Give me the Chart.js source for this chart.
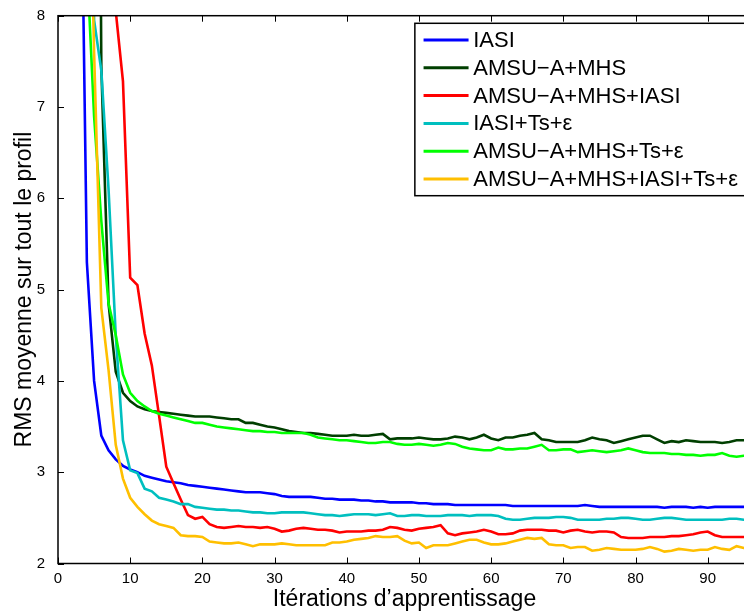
<!DOCTYPE html>
<html>
<head>
<meta charset="utf-8">
<script src="https://cdn.jsdelivr.net/npm/chart.js@4.4.1/dist/chart.umd.min.js"></script>
<style>
  html, body { margin: 0; padding: 0; background: #fff; overflow: hidden; }
  #wrap { width: 760px; height: 613px; }
</style>
</head>
<body>
<div id="wrap"><canvas id="rms" width="760" height="613"></canvas></div>
<script>
// ── Data ────────────────────────────────────────────────────
const iterations = [
  1, 2, 3, 4, 5, 6, 7, 8, 9, 10, 11, 12, 13, 14, 15, 16, 17, 18, 19, 20,
  21, 22, 23, 24, 25, 26, 27, 28, 29, 30, 31, 32, 33, 34, 35, 36, 37, 38, 39, 40,
  41, 42, 43, 44, 45, 46, 47, 48, 49, 50, 51, 52, 53, 54, 55, 56, 57, 58, 59, 60,
  61, 62, 63, 64, 65, 66, 67, 68, 69, 70, 71, 72, 73, 74, 75, 76, 77, 78, 79, 80,
  81, 82, 83, 84, 85, 86, 87, 88, 89, 90, 91, 92, 93, 94, 95, 96
];

const seriesLabels = [
  'IASI',
  'AMSU\u2212A+MHS',
  'AMSU\u2212A+MHS+IASI',
  'IASI+Ts+\u03b5',
  'AMSU\u2212A+MHS+Ts+\u03b5',
  'AMSU\u2212A+MHS+IASI+Ts+\u03b5'
];
const seriesColors = ['#0000ff', '#003f00', '#ff0000', '#00bfbf', '#00ff00', '#ffbf00'];

const rmsIasi = [
  18, 14, 11, 5.3, 4.0, 3.4, 3.24, 3.14, 3.07, 3.03, 3.0, 2.96, 2.94, 2.92, 2.90, 2.89, 2.88, 2.86, 2.85, 2.84,
  2.83, 2.82, 2.81, 2.80, 2.79, 2.78, 2.78, 2.78, 2.77, 2.76, 2.74, 2.73, 2.73, 2.73, 2.73, 2.72, 2.71, 2.71, 2.70, 2.70,
  2.70, 2.69, 2.69, 2.68, 2.68, 2.67, 2.67, 2.67, 2.67, 2.66, 2.66, 2.65, 2.65, 2.65, 2.64, 2.64, 2.64, 2.64, 2.64, 2.64,
  2.64, 2.64, 2.63, 2.63, 2.63, 2.63, 2.63, 2.63, 2.63, 2.63, 2.63, 2.63, 2.64, 2.63, 2.62, 2.62, 2.62, 2.62, 2.62, 2.62,
  2.62, 2.62, 2.62, 2.61, 2.62, 2.62, 2.62, 2.61, 2.62, 2.61, 2.62, 2.62, 2.62, 2.62, 2.62, 2.62
];

const rmsAmsuMhs = [
  26, 23, 21, 20, 20, 7.45, 4.85, 4.1, 3.87, 3.78, 3.72, 3.69, 3.67, 3.66, 3.65, 3.64, 3.63, 3.62, 3.61, 3.61,
  3.61, 3.60, 3.59, 3.58, 3.58, 3.54, 3.54, 3.52, 3.50, 3.49, 3.47, 3.45, 3.44, 3.43, 3.43, 3.42, 3.41, 3.40, 3.40, 3.40,
  3.41, 3.40, 3.40, 3.41, 3.42, 3.36, 3.37, 3.37, 3.37, 3.38, 3.37, 3.36, 3.36, 3.37, 3.39, 3.38, 3.36, 3.38, 3.41, 3.37,
  3.35, 3.38, 3.38, 3.40, 3.41, 3.43, 3.36, 3.35, 3.33, 3.33, 3.33, 3.33, 3.35, 3.38, 3.36, 3.35, 3.32, 3.34, 3.36, 3.38,
  3.40, 3.40, 3.36, 3.32, 3.34, 3.33, 3.35, 3.34, 3.33, 3.33, 3.33, 3.32, 3.33, 3.35, 3.35, 3.34
];

const rmsAmsuMhsIasi = [
  26, 22, 19, 17, 15, 13, 11, 8.05, 7.28, 5.13, 5.05, 4.52, 4.17, 3.62, 3.06, 2.88, 2.70, 2.53, 2.49, 2.51,
  2.43, 2.40, 2.39, 2.40, 2.41, 2.40, 2.40, 2.39, 2.40, 2.38, 2.35, 2.36, 2.38, 2.39, 2.38, 2.37, 2.37, 2.36, 2.34, 2.35,
  2.35, 2.35, 2.36, 2.36, 2.37, 2.40, 2.39, 2.37, 2.36, 2.38, 2.39, 2.40, 2.42, 2.33, 2.31, 2.33, 2.34, 2.35, 2.37, 2.35,
  2.32, 2.32, 2.33, 2.36, 2.37, 2.37, 2.37, 2.36, 2.36, 2.34, 2.36, 2.37, 2.35, 2.34, 2.35, 2.35, 2.34, 2.29, 2.28, 2.28,
  2.28, 2.29, 2.29, 2.29, 2.30, 2.30, 2.31, 2.32, 2.34, 2.35, 2.31, 2.29, 2.29, 2.29, 2.29, 2.29
];

const rmsIasiTsEps = [
  24, 20, 17, 14, 7.95, 7.4, 6.1, 4.5, 3.35, 3.02, 2.99, 2.82, 2.79, 2.72, 2.70, 2.68, 2.65, 2.65, 2.62, 2.61,
  2.60, 2.59, 2.59, 2.58, 2.58, 2.57, 2.56, 2.56, 2.55, 2.55, 2.56, 2.56, 2.56, 2.56, 2.55, 2.54, 2.53, 2.53, 2.52, 2.53,
  2.54, 2.54, 2.54, 2.53, 2.54, 2.55, 2.52, 2.52, 2.53, 2.53, 2.52, 2.52, 2.52, 2.53, 2.53, 2.53, 2.52, 2.53, 2.53, 2.53,
  2.52, 2.49, 2.48, 2.48, 2.49, 2.50, 2.50, 2.50, 2.51, 2.51, 2.50, 2.48, 2.48, 2.48, 2.48, 2.49, 2.49, 2.50, 2.50, 2.49,
  2.48, 2.48, 2.49, 2.50, 2.50, 2.49, 2.48, 2.48, 2.48, 2.48, 2.48, 2.48, 2.49, 2.49, 2.48, 2.48
];

const rmsAmsuMhsTsEps = [
  22, 18, 14, 8.6, 6.9, 5.75, 4.85, 4.5, 4.07, 3.87, 3.78, 3.72, 3.67, 3.64, 3.62, 3.60, 3.58, 3.56, 3.54, 3.54,
  3.52, 3.50, 3.49, 3.48, 3.47, 3.46, 3.45, 3.45, 3.44, 3.44, 3.43, 3.43, 3.43, 3.43, 3.41, 3.38, 3.37, 3.36, 3.35, 3.35,
  3.34, 3.33, 3.32, 3.32, 3.33, 3.33, 3.31, 3.30, 3.30, 3.31, 3.30, 3.29, 3.30, 3.32, 3.31, 3.28, 3.26, 3.25, 3.24, 3.24,
  3.27, 3.25, 3.25, 3.26, 3.26, 3.28, 3.30, 3.24, 3.24, 3.25, 3.25, 3.22, 3.23, 3.24, 3.23, 3.22, 3.23, 3.24, 3.26, 3.24,
  3.22, 3.21, 3.21, 3.21, 3.20, 3.20, 3.19, 3.19, 3.18, 3.19, 3.19, 3.21, 3.18, 3.17, 3.18, 3.18
];

const rmsAll = [
  22, 18, 14, 11, 7.6, 4.8, 4.12, 3.3, 2.93, 2.72, 2.62, 2.54, 2.47, 2.43, 2.41, 2.39, 2.31, 2.30, 2.30, 2.29,
  2.24, 2.23, 2.22, 2.22, 2.23, 2.21, 2.19, 2.21, 2.21, 2.21, 2.22, 2.21, 2.20, 2.20, 2.20, 2.20, 2.20, 2.23, 2.23, 2.24,
  2.26, 2.27, 2.28, 2.30, 2.29, 2.29, 2.30, 2.25, 2.22, 2.23, 2.17, 2.20, 2.20, 2.20, 2.22, 2.24, 2.26, 2.26, 2.23, 2.21,
  2.21, 2.22, 2.24, 2.26, 2.28, 2.27, 2.28, 2.21, 2.20, 2.20, 2.17, 2.18, 2.18, 2.14, 2.15, 2.17, 2.16, 2.15, 2.15, 2.15,
  2.16, 2.18, 2.16, 2.13, 2.14, 2.16, 2.15, 2.14, 2.15, 2.15, 2.18, 2.16, 2.15, 2.19, 2.17, 2.17
];

const allSeries = [rmsIasi, rmsAmsuMhs, rmsAmsuMhsIasi, rmsIasiTsEps, rmsAmsuMhsTsEps, rmsAll];

const xTicks = [0, 10, 20, 30, 40, 50, 60, 70, 80, 90];
const yTicks = [2, 3, 4, 5, 6, 7, 8];

// ── Layout (pixels) ─────────────────────────────────────────
const PLOT_LEFT = 58;
const PLOT_TOP = 15.7;
const PLOT_BOTTOM = 563.5;
const CANVAS_H = 613;
const FONT = '"Liberation Sans", Arial, Helvetica, sans-serif';

/* Matlab-style frame: box all round, ticks pointing inward */
const framePlugin = {
  id: 'frame',
  afterDatasetsDraw(chart) {
    const { ctx, chartArea: a, scales } = chart;
    ctx.save();
    ctx.strokeStyle = '#000';
    ctx.lineWidth = 1.5;
    ctx.strokeRect(a.left, a.top, a.right - a.left, a.bottom - a.top);
    ctx.lineWidth = 1;
    ctx.beginPath();
    xTicks.forEach(v => {
      const x = Math.round(scales.x.getPixelForValue(v)) + 0.5;
      ctx.moveTo(x, a.bottom); ctx.lineTo(x, a.bottom - 6);
      ctx.moveTo(x, a.top); ctx.lineTo(x, a.top + 6);
    });
    yTicks.forEach(v => {
      const y = Math.round(scales.y.getPixelForValue(v)) + 0.5;
      ctx.moveTo(a.left, y); ctx.lineTo(a.left + 6, y);
      ctx.moveTo(a.right, y); ctx.lineTo(a.right - 6, y);
    });
    ctx.stroke();
    ctx.restore();
  }
};

/* Legend box drawn inside the plot, top right */
const insideLegend = {
  id: 'insideLegend',
  afterDraw(chart) {
    const { ctx, chartArea: a } = chart;
    ctx.save();
    ctx.font = '22px ' + FONT;
    const textW = Math.max(...seriesLabels.map(s => ctx.measureText(s).width));
    const padL = 8.7, lineLen = 45, gap = 4.7, padR = 8;
    const right = a.right - 5;
    const left = right - (padL + lineLen + gap + textW + padR);
    const top = a.top + 7.6;
    const rowH = 27.8;
    const height = 16.7 * 2 + rowH * (seriesLabels.length - 1);
    ctx.fillStyle = '#fff';
    ctx.fillRect(left, top, right - left, height);
    ctx.strokeStyle = '#000';
    ctx.lineWidth = 1.5;
    ctx.strokeRect(left, top, right - left, height);
    ctx.textBaseline = 'middle';
    ctx.textAlign = 'left';
    seriesLabels.forEach((lab, k) => {
      const y = top + 16.7 + k * rowH;
      ctx.strokeStyle = seriesColors[k];
      ctx.lineWidth = 3;
      ctx.beginPath();
      ctx.moveTo(left + padL, y);
      ctx.lineTo(left + padL + lineLen, y);
      ctx.stroke();
      ctx.fillStyle = '#000';
      ctx.fillText(lab, left + padL + lineLen + gap, y + 1);
    });
    ctx.restore();
  }
};

const datasets = allSeries.map((vals, k) => ({
  label: seriesLabels[k],
  data: iterations.map((it, j) => ({ x: it, y: vals[j] })),
  borderColor: seriesColors[k],
  backgroundColor: seriesColors[k],
  borderWidth: 2.6,
  pointRadius: 0,
  tension: 0,
  fill: false,
  clip: 0,
  order: allSeries.length - k
}));

new Chart(document.getElementById('rms'), {
  type: 'line',
  data: { datasets },
  options: {
    responsive: false,
    animation: false,
    events: [],
    layout: { padding: { top: PLOT_TOP, right: 760 - 751, bottom: 0, left: 0 } },
    plugins: { legend: { display: false }, tooltip: { enabled: false } },
    scales: {
      x: {
        type: 'linear',
        min: 0,
        max: 96,
        afterBuildTicks: s => { s.ticks = xTicks.map(v => ({ value: v })); },
        afterFit: s => { s.height = CANVAS_H - PLOT_BOTTOM; },
        grid: { display: false },
        border: { display: false },
        ticks: { color: '#000', padding: -2, maxRotation: 0, font: { family: FONT, size: 15 } },
        title: {
          display: true,
          text: 'Itérations d\u2019apprentissage',
          color: '#000',
          padding: { top: 0, bottom: 0 },
          font: { family: FONT, size: 23 }
        }
      },
      y: {
        min: 2,
        max: 8,
        afterBuildTicks: s => { s.ticks = yTicks.map(v => ({ value: v })); },
        afterFit: s => { s.width = PLOT_LEFT; },
        grid: { display: false },
        border: { display: false },
        ticks: { color: '#000', padding: 5, font: { family: FONT, size: 15 } },
        title: {
          display: true,
          text: 'RMS moyenne sur tout le profil',
          color: '#000',
          padding: { top: 11, bottom: 0 },
          font: { family: FONT, size: 23 }
        }
      }
    }
  },
  plugins: [framePlugin, insideLegend]
});
</script>
</body>
</html>
